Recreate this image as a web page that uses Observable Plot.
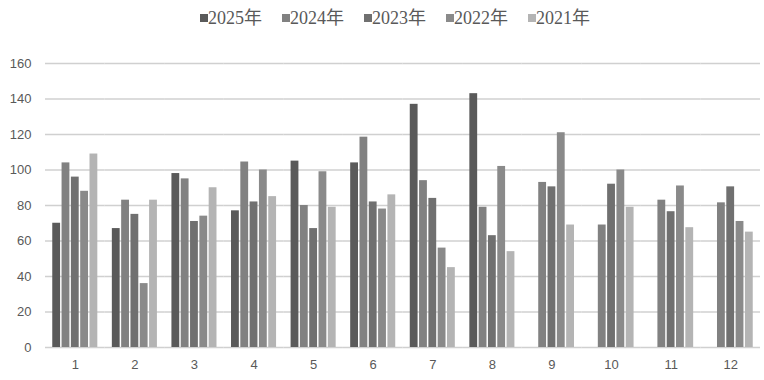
<!DOCTYPE html>
<html>
<head>
<meta charset="utf-8">
<script src="https://cdn.jsdelivr.net/npm/d3@7"></script>
<script src="https://cdn.jsdelivr.net/npm/@observablehq/plot@0.6"></script>
<style>
  html, body { margin: 0; padding: 0; background: #fff; }
  #legend { height: 45px; display: flex; justify-content: center; align-items: flex-start; gap: 20px;
            font-family: "Liberation Serif", "Noto Sans CJK SC", serif; font-size: 18px; line-height: 20px; color: #595959;
            padding-left: 26px; padding-top: 8px; box-sizing: border-box; }
  #legend .item { display: flex; align-items: center; gap: 0px; }
  #legend .sw { width: 8px; height: 8px; display: inline-block; }
</style>
</head>
<body>
<div id="legend"></div>
<div id="chart"></div>
<script>
const months = ["1","2","3","4","5","6","7","8","9","10","11","12"];
const years = ["2025年","2024年","2023年","2022年","2021年"];
const colors = ["#5a5a5a","#818181","#707070","#8a8a8a","#b4b4b4"];
const v2025 = [70, 67, 98, 77, 105, 104, 137, 143, null, null, null, null];
const v2024 = [104, 83, 95, 104.5, 80, 118.5, 94, 79, 93, 69, 83, 81.5];
const v2023 = [96, 75, 71, 82, 67, 82, 84, 63, 90.5, 92, 76.5, 90.5];
const v2022 = [88, 36, 74, 100, 99, 78, 56, 102, 121, 100, 91, 71];
const v2021 = [109, 83, 90, 85, 79, 86, 45, 54, 69, 79, 67.5, 65];
const yTicks = [0, 20, 40, 60, 80, 100, 120, 140, 160];

const series = [v2025, v2024, v2023, v2022, v2021];
const data = [];
months.forEach((m, i) => {
  years.forEach((y, j) => {
    const v = series[j][i];
    if (v != null) data.push({month: m, year: y, value: v});
  });
});

const legend = document.getElementById("legend");
years.forEach((y, j) => {
  const it = document.createElement("span");
  it.className = "item";
  it.innerHTML = `<span class="sw" style="background:${colors[j]}"></span><span>${y}</span>`;
  legend.appendChild(it);
});

const chart = Plot.plot({
  width: 764,
  height: 335,
  marginTop: 18,
  marginBottom: 33,
  marginLeft: 45,
  marginRight: 4,
  style: {fontFamily: "'Liberation Sans', 'DejaVu Sans', sans-serif", fontSize: "13px", color: "#595959", background: "#fff"},
  fx: {domain: months, padding: 0, round: false, label: null},
  x: {domain: years, paddingInner: 0.16, paddingOuter: 0.78, round: false, axis: null},
  y: {domain: [0, 160], label: null},
  color: {domain: years, range: colors},
  marks: [
    Plot.gridY(yTicks, {stroke: "#d0d0d0", strokeOpacity: 1, strokeWidth: 1.5}),
    Plot.axisY(yTicks, {tickSize: 0, tickPadding: 14, label: null, fontSize: 13, fill: "#595959"}),
    Plot.axisFx({anchor: "bottom", tickSize: 0, tickPadding: 12, label: null, fontSize: 13, fill: "#595959"}),
    Plot.barY(data, {fx: "month", x: "year", y: "value", fill: "year"})
  ]
});
document.getElementById("chart").appendChild(chart);
</script>
</body>
</html>
